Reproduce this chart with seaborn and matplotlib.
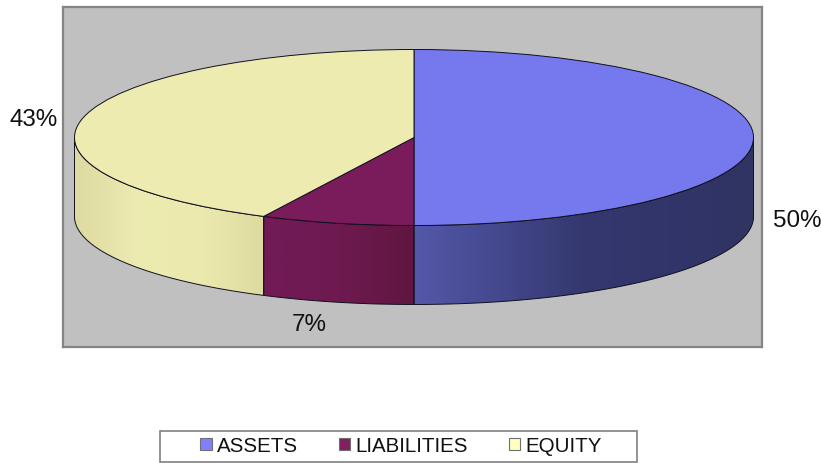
import numpy as np
import seaborn as sns
import matplotlib.pyplot as plt
from matplotlib.colors import LinearSegmentedColormap
from matplotlib.patches import Polygon, Rectangle

# values
categories = ['ASSETS', 'LIABILITIES', 'EQUITY']
shares = [50.0, 7.3, 42.7]
top_colors = ['#7678EE', '#7A1B5B', '#EDEBB0']
swatch_colors = ['#8080FF', '#802060', '#FFFFC0']
side_stops = [['#5458A8', '#44488E', '#34386E', '#31356A', '#303462'],
              ['#721A56', '#6E1A50', '#601640'],
              ['#DDDAA2', '#ECEBB0', '#EBE9AE', '#DEDBA0']]

W, H = 821, 464
box = (63, 8, 762, 348)
cx, cy, rx, ry = 414, 138.5, 339.5, 88
depth = 79 / ry

sns.set_theme(style='white')
plt.rcParams['font.family'] = ['Liberation Sans', 'DejaVu Sans']

fig = plt.figure(figsize=(W / 100, H / 100), dpi=100)
ax = fig.add_axes([box[0] / W, 1 - box[3] / H, (box[2] - box[0]) / W, (box[3] - box[1]) / H])

# pie on stretched axes gives the ellipse
wedges, _ = ax.pie(shares, startangle=90, counterclock=False, colors=sns.color_palette(top_colors),
                   frame=True, wedgeprops={'edgecolor': '#101020', 'linewidth': 0.7, 'zorder': 5})
ax.set_aspect('auto')
xlim = ((box[0] - cx) / rx, (box[2] - cx) / rx)
ylim = ((cy - box[3]) / ry, (cy - box[1]) / ry)

# rim of the disc, only the front half shows
fractions = np.cumsum([0] + shares) / sum(shares)
for i, stops in enumerate(side_stops):
    t0 = max(fractions[i] * 2 * np.pi, np.pi / 2)
    t1 = min(fractions[i + 1] * 2 * np.pi, 3 * np.pi / 2)
    t = np.linspace(t0, t1, 200)
    x, y = np.sin(t), np.cos(t)
    outline = np.r_[np.c_[x, y], np.c_[x[::-1], y[::-1] - depth]]
    poly = Polygon(outline, closed=True, facecolor='none', edgecolor='#101020', linewidth=0.7, zorder=3)
    ax.add_patch(poly)
    cmap = LinearSegmentedColormap.from_list(categories[i], stops)
    left, right = x.min(), x.max()
    im = ax.imshow(np.linspace(0, 1, 256)[None, :], cmap=cmap, aspect='auto', zorder=2,
                   extent=(left, right, y.min() - depth, y.max()))
    im.set_clip_path(poly)

ax.set_xlim(xlim)
ax.set_ylim(ylim)
ax.set_xticks([])
ax.set_yticks([])
ax.set_facecolor('#C0C0C0')
for s in ax.spines.values():
    s.set_visible(True)
    s.set_color('#848484')
    s.set_linewidth(1.6)

# percent labels
label_pos = [(797, 221), (309, 325), (34, 120)]
for share, (px, py) in zip(shares, label_pos):
    fig.text(px / W, 1 - py / H, f'{share:.0f}%', fontsize=17.4, color='#111111', ha='center', va='center')

# legend frame and entries
fig.add_artist(Rectangle((160 / W, 1 - 463 / H), 477 / W, 31 / H, transform=fig.transFigure,
                         facecolor='white', edgecolor='#808080', linewidth=1.2))
leg = fig.legend(wedges, categories, ncol=3, loc='center', bbox_to_anchor=(401 / W, 1 - 447 / H),
                 frameon=False, fontsize=14.8, handlelength=0.55, handleheight=0.55,
                 handletextpad=0.25, columnspacing=2.0, borderpad=0, labelcolor='#111111')
for h, c in zip(leg.legend_handles, swatch_colors):
    h.set_facecolor(c)
    h.set_edgecolor('#707070')
    h.set_linewidth(0.8)

fig.savefig('out.png', dpi=100)
